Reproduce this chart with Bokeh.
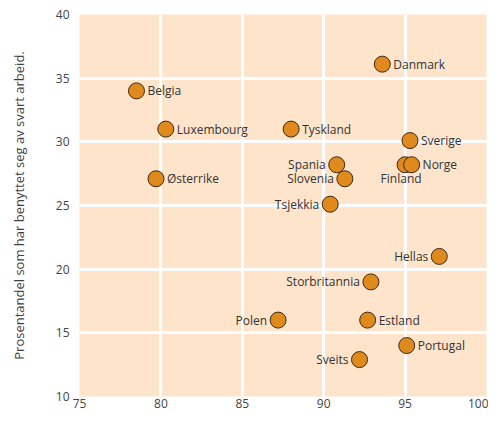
from bokeh.plotting import figure
from bokeh.models import ColumnDataSource, FixedTicker
from bokeh.core.properties import value
from bokeh.embed import file_html
from bokeh.resources import INLINE

# Data
countries = ["Danmark", "Belgia", "Luxembourg", "Tyskland", "Sverige", "Spania",
             "Finland", "Norge", "Slovenia", "Østerrike", "Tsjekkia", "Hellas",
             "Storbritannia", "Polen", "Estland", "Portugal", "Sveits"]
x_vals = [93.6, 78.5, 80.3, 88.0, 95.3, 90.8, 95.0, 95.4, 91.3, 79.7, 90.4, 97.1,
          92.9, 87.2, 92.7, 95.1, 92.2]
y_vals = [36.1, 34.0, 31.0, 31.0, 30.1, 28.2, 28.2, 28.2, 27.1, 27.1, 25.1, 21.0,
          19.0, 16.0, 16.0, 14.0, 12.9]
x_ticks = [75, 80, 85, 90, 95, 100]
y_ticks = [10, 15, 20, 25, 30, 35, 40]

# Label placement (style)
left_labels = {"Spania", "Slovenia", "Tsjekkia", "Hellas", "Storbritannia", "Polen", "Sveits"}
below_labels = {"Finland"}

FONT = "Open Sans"
BG = "#fde4cb"

p = figure(width=488, height=410, output_backend="svg", toolbar_location=None,
           x_range=(75, 100), y_range=(10, 40),
           min_border_left=79, min_border_right=2, min_border_top=14, min_border_bottom=0)
p.background_fill_color = BG
p.border_fill_color = "white"
p.outline_line_color = None

for ax in (p.xaxis[0], p.yaxis[0]):
    ax.axis_line_color = None
    ax.major_tick_line_color = None
    ax.minor_tick_line_color = None
    ax.major_tick_out = 0
    ax.major_tick_in = 0
    ax.major_label_text_font = FONT
    ax.major_label_text_font_size = "12px"
    ax.major_label_text_color = "#444444"
p.xaxis.ticker = FixedTicker(ticks=x_ticks)
p.yaxis.ticker = FixedTicker(ticks=y_ticks)
p.xaxis.major_label_standoff = 2
p.yaxis.major_label_standoff = 10

p.yaxis.axis_label = "Prosentandel som har benyttet seg av svart arbeid."
p.yaxis.axis_label_text_font = FONT
p.yaxis.axis_label_text_font_size = "13px"
p.yaxis.axis_label_text_font_style = "normal"
p.yaxis.axis_label_text_color = "#3f3f3f"
p.yaxis.axis_label_standoff = 25

p.xgrid.grid_line_color = "white"
p.ygrid.grid_line_color = "white"
p.xgrid.grid_line_width = 3
p.ygrid.grid_line_width = 3

src = ColumnDataSource(dict(x=x_vals, y=y_vals, name=countries))
p.scatter("x", "y", source=src, size=16, fill_color="#e0891c",
          line_color="#3a2a18", line_width=1)

for side in ("right", "left", "below"):
    idx = [i for i, c in enumerate(countries)
           if (c in left_labels and side == "left") or
              (c in below_labels and side == "below") or
              (c not in left_labels and c not in below_labels and side == "right")]
    s = ColumnDataSource(dict(x=[x_vals[i] for i in idx], y=[y_vals[i] for i in idx],
                              t=[countries[i] for i in idx]))
    if side == "right":
        kw = dict(x_offset=11, y_offset=0, text_align="left")
    elif side == "left":
        kw = dict(x_offset=-11, y_offset=0, text_align="right")
    else:
        kw = dict(x_offset=-4, y_offset=14, text_align="center")
    p.text("x", "y", text="t", source=s, text_font=value(FONT), text_font_size="12px",
           text_color="#333333", text_baseline="middle", **kw)

open("out.html", "w").write(file_html(p, INLINE))
